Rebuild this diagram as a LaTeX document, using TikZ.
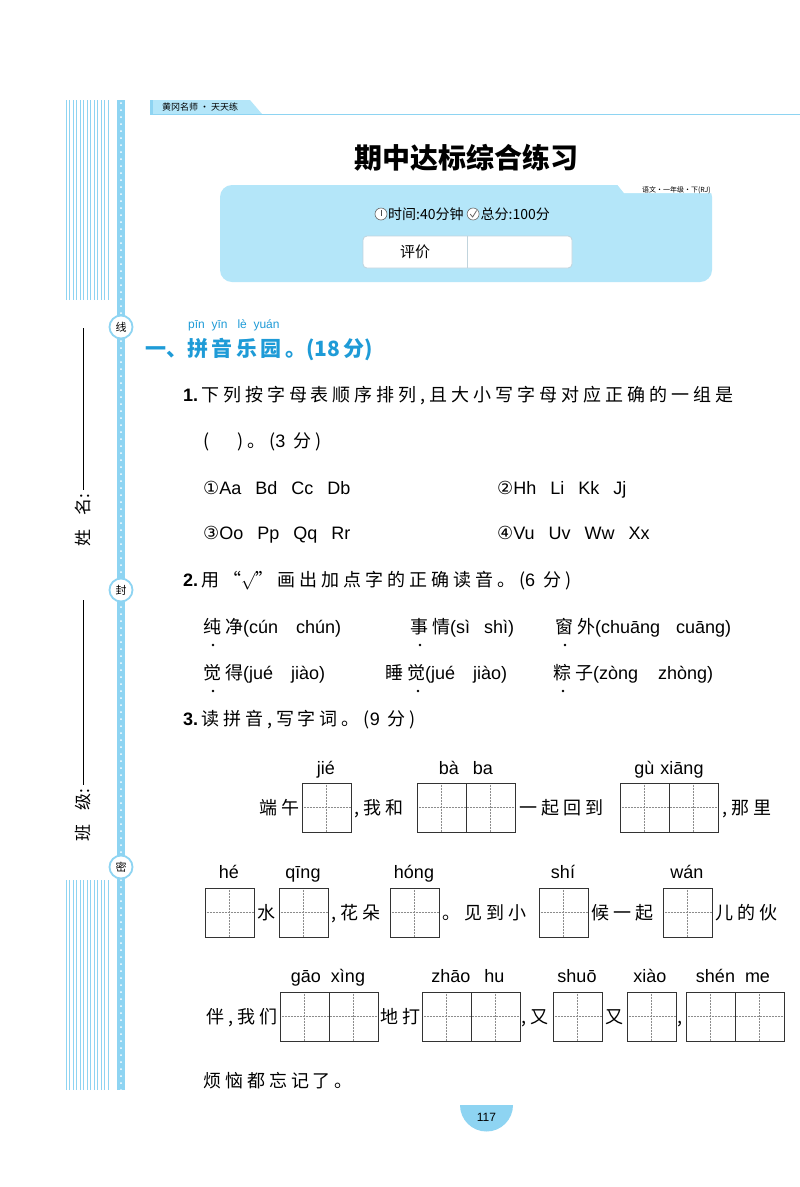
\documentclass[tikz,border=0pt]{standalone}
\usepackage{fontspec}
\usetikzlibrary{positioning}
\setmainfont{Liberation Sans}
\newfontfamily\cjk{Noto Sans CJK SC}
\newfontfamily\cjks[LetterSpace=22]{Noto Sans CJK SC}
\newfontfamily\py{Liberation Sans}
\newfontfamily\dvsym{DejaVu Sans}
\definecolor{barblue}{HTML}{8ED4F2}
\definecolor{panelblue}{HTML}{B4E6F9}
\definecolor{headblue}{HTML}{1E9BD7}
\begin{document}
\begin{tikzpicture}[x=1pt,y=-1pt,
  t/.style={anchor=base west,inner sep=0,font=\cjks\fontsize{18}{18}\selectfont},
  te/.style={anchor=base east,inner sep=0,font=\cjks\fontsize{18}{18}\selectfont},
  pyt/.style={anchor=base,inner sep=0,font=\py\fontsize{18}{18}\selectfont},
  opt/.style={anchor=base west,inner sep=0,font=\py\fontsize{18}{18}\selectfont},
  cell/.style={draw=black!80,line width=1pt},
  guide/.style={draw=black!45,densely dotted,line width=0.5pt},
  icon/.style={circle,draw=black!60,fill=white,line width=0.6pt,inner sep=0,minimum size=12pt},
  seal/.style={circle,draw=barblue,fill=white,line width=1.8pt,inner sep=0,minimum size=23pt,font=\cjk\fontsize{11}{11}\selectfont}]
\useasboundingbox (0,0) rectangle (800,1187);
\fill[white] (0,0) rectangle (800,1187);
% stripes
\foreach \i in {0,...,12}{
  \draw[barblue,line width=0.8pt] (66+\i*3.5,100) -- (66+\i*3.5,300);
  \draw[barblue,line width=0.8pt] (66+\i*3.5,880) -- (66+\i*3.5,1090);}
% dotted bar
\fill[barblue] (117,100) rectangle (125,1090);
\foreach \k in {0,...,141}{\fill[white] (121,103+\k*7) circle (1pt);}
\node[seal] (s1) at (121,327) {线};
\node[seal] (s2) at (121,590) {封};
\node[seal] (s3) at (121,867) {密};
% left labels
\node[rotate=90,inner sep=0,font=\cjk\fontsize{17}{17}\selectfont] (xm) at (83,520) {姓\hspace{14pt}名:};
\draw[line width=1pt] (83,328) -- (83,490);
\draw[line width=1pt] (83,600) -- (83,785);
\node[rotate=90,inner sep=0,font=\cjk\fontsize{17}{17}\selectfont] (bj) at (83,815) {班\hspace{14pt}级:};
% header tab
\fill[panelblue] (150,100) -- (250,100) -- (262,114) -- (150,114) -- cycle;
\fill[barblue] (150,100) rectangle (153,114);
\draw[barblue,line width=1pt] (150,114) -- (800,114);
\node[anchor=west,inner sep=0,font=\cjk\fontsize{9}{9}\selectfont] (tab) at (162,107) {黄冈名师 · 天天练};
% title
\node[inner sep=0,font=\cjk\bfseries\fontsize{28}{28}\selectfont] (title) at (466,158) {期中达标综合练习};
% panel
\fill[panelblue,rounded corners=12pt] (220,185) rectangle (712,282);
\fill[white] (616,183) -- (714,183) -- (714,193) -- (624,193) -- cycle;
\node[anchor=east,inner sep=0,font=\cjk\fontsize{7}{7}\selectfont] (subj) at (711,190) {语文·一年级·下(RJ)};
\node[icon] (clk) at (381,214) {};
\draw[black!70,line width=0.9pt] (381,210) -- (381,216);
\node[anchor=west,inner sep=0,font=\cjk\fontsize{14}{14}\selectfont] (time) at (388,214) {时间:40分钟};
\node[icon,right=3pt of time] (chk) {};
\draw[black!60,line width=0.8pt] ([xshift=-3pt]chk.center) -- ([xshift=-0.5pt,yshift=-3pt]chk.center) -- ([xshift=3.5pt,yshift=3.5pt]chk.center);
\node[anchor=west,inner sep=0,font=\cjk\fontsize{14}{14}\selectfont,right=1pt of chk] (score) {总分:100分};
\draw[fill=white,draw=barblue!70!black!40,rounded corners=4pt,line width=0.8pt] (363,236) rectangle (572,268);
\draw[barblue!70!black!40,line width=0.8pt] (467,236) -- (467,268);
\node[inner sep=0,font=\cjk\fontsize{15}{15}\selectfont] (pj) at (415,252) {评价};
% section
\node[anchor=base west,inner sep=0,text=headblue,font=\py\fontsize{12}{12}\selectfont] (secpy) at (188,328) {pīn\ \ yīn\ \ \ lè\ \ yuán};
\node[anchor=base west,inner sep=0,text=headblue,font=\cjk\bfseries\fontsize{21}{21}\selectfont] (sec) at (145,356) {一、拼\,音\,乐\,园\,。(18\,分)};
% Q1
\node[t] (q1) at (183,401) {{\py\bfseries 1.}\,下列按字母表顺序排列,且大小写字母对应正确的一组是};
\node[t] (q1b) at (203,447) {(\hspace{28pt})。({\py 3} 分)};
\node[opt] (o1) at (203,494) {{\dvsym ①}Aa\hspace{14pt}Bd\hspace{14pt}Cc\hspace{14pt}Db};
\node[opt] (o2) at (497,494) {{\dvsym ②}Hh\hspace{14pt}Li\hspace{14pt}Kk\hspace{14pt}Jj};
\node[opt] (o3) at (203,539) {{\dvsym ③}Oo\hspace{14pt}Pp\hspace{14pt}Qq\hspace{14pt}Rr};
\node[opt] (o4) at (497,539) {{\dvsym ④}Vu\hspace{14pt}Uv\hspace{14pt}Ww\hspace{14pt}Xx};
% Q2
\node[t] (q2) at (183,586) {{\py\bfseries 2.}\,用“$\surd$”画出加点字的正确读音。({\py 6} 分)};
\node[t] (r1a) at (203,633) {纯净{\py (cún\hspace{18pt}chún)}};
\node[t] (r1b) at (410,633) {事情{\py (sì\hspace{14pt}shì)}};
\node[t] (r1c) at (555,633) {窗外{\py (chuāng\hspace{16pt}cuāng)}};
\node[t] (r2a) at (203,679) {觉得{\py (jué\hspace{18pt}jiào)}};
\node[t] (r2b) at (385,679) {睡觉{\py (jué\hspace{18pt}jiào)}};
\node[t] (r2c) at (553,679) {粽子{\py (zòng\hspace{20pt}zhòng)}};
\foreach \x/\y in {213/645,420/645,565/645,213/691,418/691,563/691}{\fill (\x,\y) circle (1.3pt);}
% Q3
\node[t] (q3) at (183,725) {{\py\bfseries 3.}\,读拼音,写字词。({\py 9} 分)};
% boxes
\foreach \x/\y/\n in {302/783/1,417/783/2,620/783/2,205/888/1,279/888/1,390/888/1,539/888/1,663/888/1,280/992/2,422/992/2,553/992/1,627/992/1,686/992/2}{
  \pgfmathsetmacro\w{49*\n}
  \foreach \c in {1,...,\n}{
    \draw[guide] (\x+\c*49-24.5,\y) -- (\x+\c*49-24.5,\y+49);}
  \draw[guide] (\x,\y+24.5) -- (\x+\w,\y+24.5);
  \ifnum\n=2 \draw[cell,line width=0.6pt] (\x+49,\y) -- (\x+49,\y+49);\fi
  \draw[cell] (\x,\y) rectangle (\x+\w,\y+49);
}
% row 1
\node[pyt] (p1) at (326,774) {jié};
\node[pyt] (p2) at (466,774) {bà\hspace{14pt}ba};
\node[pyt] (p3) at (669,774) {gù\hspace{6pt}xiāng};
\node[te] (w1) at (300,814) {端午};
\node[t] (w2) at (354,814) {,我和};
\node[t] (w3) at (519,814) {一起回到};
\node[t] (w4) at (722,814) {,那里};
% row 2
\node[pyt] (p4) at (229,878) {hé};
\node[pyt] (p5) at (303,878) {qīng};
\node[pyt] (p6) at (414,878) {hóng};
\node[pyt] (p7) at (563,878) {shí};
\node[pyt] (p8) at (687,878) {wán};
\node[t] (w5) at (257,919) {水};
\node[t] (w6) at (331,919) {,花朵};
\node[t] (w7) at (442,919) {。见到小};
\node[t] (w8) at (591,919) {候一起};
\node[t] (w9) at (715,919) {儿的伙};
% row 3
\node[pyt] (p9) at (328,982) {gāo\hspace{10pt}xìng};
\node[pyt] (p10) at (468,982) {zhāo\hspace{14pt}hu};
\node[pyt] (p11) at (577,982) {shuō};
\node[pyt] (p12) at (650,982) {xiào};
\node[pyt] (p13) at (733,982) {shén\hspace{10pt}me};
\node[te] (w10) at (278,1023) {伴,我们};
\node[t] (w11) at (380,1023) {地打};
\node[t] (w12) at (521,1023) {,又};
\node[t] (w13) at (605,1023) {又};
\node[t] (w14) at (677,1023) {,};
\node[t] (w15) at (203,1087) {烦恼都忘记了。};
% page number
\fill[barblue] (460,1105) arc[start angle=180,end angle=0,radius=26.5] -- cycle;
\foreach \a/\r in {200/8,230/14,260/10,290/18,320/12,250/21,300/6,220/20,340/20}{\fill[white] (486.5,1105) ++(\a:\r) circle (0.7pt);}
\node[inner sep=0,font=\py\fontsize{12}{12}\selectfont] (pg) at (486.5,1117) {117};
\end{tikzpicture}
\end{document}
